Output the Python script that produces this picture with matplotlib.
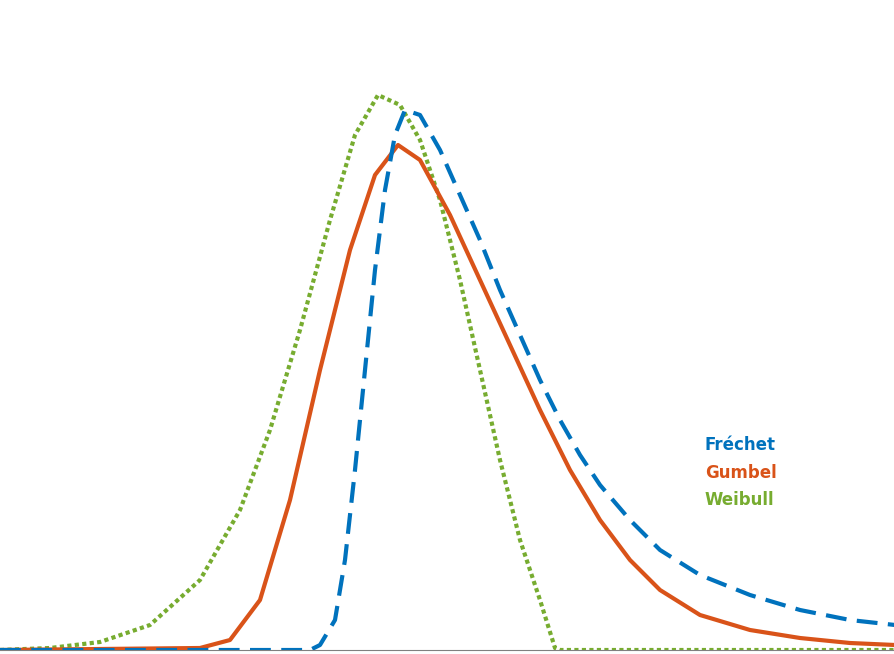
import numpy as np
import matplotlib.pyplot as plt

# curves (x, height above baseline, in pixel-like units)
gumbel_x = [0, 200, 230, 260, 290, 320, 350, 375, 398, 420, 450, 480, 510, 540, 570, 600, 630, 660, 700, 750, 800, 850, 895]
gumbel_y = [0, 2, 10, 50, 150, 280, 400, 475, 505, 490, 435, 370, 305, 240, 180, 130, 90, 60, 35, 20, 12, 7, 5]

frechet_x = [0, 310, 320, 335, 345, 355, 365, 375, 385, 395, 405, 420, 440, 460, 480, 500, 520, 540, 560, 580, 600, 630, 660, 700, 750, 800, 850, 895]
frechet_y = [0, 0, 5, 30, 90, 180, 280, 380, 460, 515, 540, 535, 500, 455, 410, 360, 315, 270, 230, 195, 165, 130, 100, 75, 55, 40, 30, 25]

weibull_x = [0, 50, 100, 150, 200, 240, 270, 300, 330, 355, 378, 400, 420, 440, 460, 480, 500, 520, 540, 555, 560, 895]
weibull_y = [0, 2, 8, 25, 70, 140, 220, 320, 430, 515, 555, 545, 510, 450, 370, 280, 190, 110, 50, 2, 0, 0]

names = ['Fréchet', 'Gumbel', 'Weibull']
colors = ['#0072BD', '#D95319', '#77AC30']

fig = plt.figure(figsize=(8.95, 6.54), dpi=100)
ax = fig.add_axes([0, 4 / 654, 1, 650 / 654])

ax.plot(weibull_x, weibull_y, color=colors[2], lw=3, linestyle=(0, (1, 0.8)))
ax.plot(gumbel_x, gumbel_y, color=colors[1], lw=3)
ax.plot(frechet_x, frechet_y, color=colors[0], lw=3, linestyle=(0, (5, 2.5)))

ax.set_xlim(0, 895)
ax.set_ylim(0, 650)
for s in ['top', 'right', 'left']:
    ax.spines[s].set_visible(False)
ax.spines['bottom'].set_color('#808080')
ax.set_xticks([])
ax.set_yticks([])

for i, (n, c) in enumerate(zip(names, colors)):
    ax.text(705, 205 - i * 27.5, n, color=c, fontsize=12, fontweight='bold', va='center')

fig.savefig('out.png', dpi=100)
